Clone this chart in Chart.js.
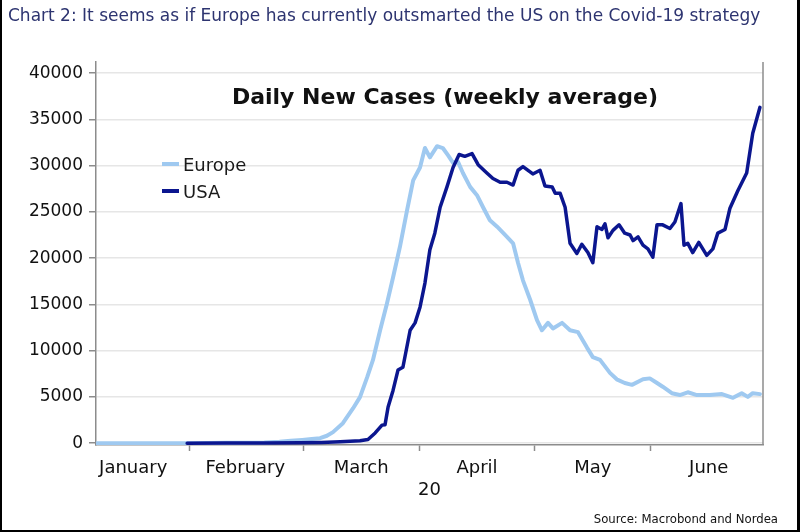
<!DOCTYPE html>
<html>
<head>
<meta charset="utf-8">
<script src="https://cdn.jsdelivr.net/npm/chart.js@4.4.1/dist/chart.umd.min.js"></script>
<style>
  html, body { margin: 0; padding: 0; background: #fff; }
  #wrap { position: relative; width: 800px; height: 532px; }
  #frame {
    position: absolute; left: 0; top: 0; width: 800px; height: 532px;
    box-sizing: border-box; border-left: 2px solid #000; border-right: 3px solid #000;
    border-bottom: 2px solid #000; pointer-events: none;
  }
</style>
</head>
<body>
<div id="wrap">
  <canvas id="chart" width="800" height="532"></canvas>
  <div id="frame"></div>
</div>
<script>
// ─── Data (day of year 2020, Jan 1 = 0) ───
const monthLabels = ['January', 'February', 'March', 'April', 'May', 'June'];
const monthMid = [15.5, 45, 75.5, 106, 136.5, 167];
const yTicks = [0, 5000, 10000, 15000, 20000, 25000, 30000, 35000, 40000];

const europeDays = [6, 20, 30, 40, 50, 54, 57, 60, 62.5, 64.7, 66.5, 68.1, 70.7, 73.4, 75.2, 77.1, 78.6, 80.5,
  82.3, 83.9, 85.7, 87.6, 89.2, 91, 92.3, 93.6, 95.5, 97, 98.4, 99.7, 101, 102.3, 104.2, 106, 107.6, 109.4,
  111.3, 113.9, 115.5, 116.8, 118.1, 120, 121.8, 123.1, 124.7, 126, 128.4, 130.5, 132.6, 135, 136.5, 138.4,
  141, 142.8, 144.9, 146.8, 149.7, 151.5, 153.4, 154.9, 157.3, 159.4, 161.5, 163.9, 167.3, 170.5, 173.4,
  175.7, 177.3, 178.6, 180.5];
const europeCases = [0, 0, 0, 30, 60, 150, 250, 350, 450, 540, 800, 1190, 2160, 3780, 4970, 7130, 8970, 12200,
  15100, 17900, 21200, 25200, 28400, 29800, 31900, 30900, 32100, 31900, 31100, 30300, 30400, 29200, 27700, 26800, 25500, 24100,
  23400, 22300, 21600, 19500, 17600, 15500, 13300, 12200, 13000, 12400, 13000, 12200, 12000, 10300, 9300, 9000,
  7600, 6900, 6500, 6300, 6900, 7000, 6500, 6100, 5400, 5200, 5500, 5200, 5200, 5300, 4900,
  5400, 5000, 5400, 5300];

const usaDays = [29.7, 40, 50, 59.4, 65, 70, 75.2, 77.3, 79.2, 81, 81.8, 82.6, 83.9, 85.2, 86.5, 88.4, 89.7, 91,
  92.3, 93.6, 94.9, 96.3, 98.1, 99.7, 101.3, 102.8, 104.7, 106.3, 108.6, 110.2, 112.1, 113.9, 115.5, 116.8,
  118.1, 120.7, 122.6, 123.9, 125.8, 126.6, 127.9, 129.2, 130.5, 132.3, 133.6, 135.2, 136.5, 137.6, 138.9,
  139.7, 140.5, 141.8, 143.4, 144.9, 146.3, 147.1, 148.4, 149.7, 151, 152.3, 153.4, 154.9, 156.8, 158.1,
  159.7, 160.5, 161.5, 162.8, 164.4, 166.5, 168.1, 169.4, 171.3, 172.6, 174.7, 177, 178.6, 180.5];
const usaCases = [0, 10, 15, 30, 80, 150, 250, 400, 1100, 1950, 2000, 3900, 5700, 7900, 8200, 12200, 13000, 14700,
  17300, 20900, 22700, 25500, 27700, 29800, 31200, 31000, 31300, 30100, 29200, 28600, 28200, 28200, 27900, 29500,
  29900, 29100, 29500, 27800, 27700, 27000, 27000, 25500, 21600, 20500, 21500, 20600, 19500, 23400, 23100,
  23700, 22200, 23000, 23600, 22700, 22500, 21900, 22300, 21400, 21000, 20100, 23600, 23600, 23200, 23900,
  25900, 21400, 21600, 20600, 21700, 20300, 21000, 22700, 23100, 25400, 27300, 29200, 33500, 36300];

const toPoints = (xs, ys) => xs.map((x, i) => ({ x, y: ys[i] }));

const AXIS_GRAY = '#8c8c8c';
const FONT = 'DejaVu Sans';

// ─── Inner title, legend, right frame, source ───
const decorations = {
    id: 'decorations',
    afterDraw(chart) {
        const { ctx, chartArea: a } = chart;
        ctx.save();

        // right frame line
        ctx.strokeStyle = AXIS_GRAY;
        ctx.lineWidth = 1.5;
        ctx.beginPath();
        ctx.moveTo(a.right, a.top);
        ctx.lineTo(a.right, a.bottom);
        ctx.stroke();

        // chart heading inside plot
        ctx.fillStyle = '#111';
        ctx.font = `bold 22px "${FONT}"`;
        ctx.textAlign = 'center';
        ctx.textBaseline = 'alphabetic';
        ctx.fillText('Daily New Cases (weekly average)', a.left + 349, a.top + 42);

        // legend
        ctx.font = `18px "${FONT}"`;
        ctx.textAlign = 'left';
        chart.data.datasets.forEach((ds, i) => {
            const y = a.top + 102 + i * 27;
            ctx.strokeStyle = ds.borderColor;
            ctx.lineWidth = 4;
            ctx.beginPath();
            ctx.moveTo(a.left + 66, y);
            ctx.lineTo(a.left + 83, y);
            ctx.stroke();
            ctx.fillStyle = '#1a1a1a';
            ctx.fillText(ds.label, a.left + 87, y + 7);
        });

        // source
        ctx.font = `13px "DejaVu Sans Condensed"`;
        ctx.textAlign = 'right';
        ctx.fillStyle = '#111';
        ctx.fillText('Source: Macrobond and Nordea', 778, 523);
        ctx.restore();
    }
};

new Chart(document.getElementById('chart'), {
    type: 'line',
    data: {
        datasets: [
            {
                label: 'Europe',
                data: toPoints(europeDays, europeCases),
                borderColor: '#9fc9f0',
                borderWidth: 4,
                order: 1
            },
            {
                label: 'USA',
                data: toPoints(usaDays, usaCases),
                borderColor: '#0b168f',
                borderWidth: 3.5,
                order: 0
            }
        ]
    },
    options: {
        responsive: false,
        animation: false,
        layout: { padding: { left: 8, right: 37, top: 0, bottom: 31 } },
        elements: {
            point: { radius: 0 },
            line: { tension: 0, borderJoinStyle: 'round', borderCapStyle: 'round' }
        },
        plugins: {
            legend: { display: false },
            tooltip: { enabled: false },
            title: {
                display: true,
                text: 'Chart 2: It seems as if Europe has currently outsmarted the US on the Covid-19 strategy',
                align: 'start',
                color: '#2d3470',
                font: { family: FONT, size: 17, weight: 'normal' },
                padding: { top: 6, bottom: 35.6 }
            }
        },
        scales: {
            x: {
                type: 'linear',
                min: 5.7,
                max: 181.3,
                afterBuildTicks: axis => { axis.ticks = monthMid.map(v => ({ value: v })); },
                afterFit: axis => { axis.height = 56; },
                ticks: {
                    callback: (v, i) => monthLabels[i],
                    autoSkip: false,
                    maxRotation: 0,
                    padding: 7,
                    color: '#111',
                    font: { family: FONT, size: 18 }
                },
                grid: {
                    display: true,
                    drawOnChartArea: false,
                    offset: true,
                    tickLength: 6,
                    tickColor: AXIS_GRAY,
                    tickWidth: 1.5
                },
                border: { color: AXIS_GRAY, width: 1.5 },
                title: {
                    display: true,
                    text: '20',
                    color: '#111',
                    font: { family: FONT, size: 18 },
                    padding: { top: 0, bottom: 0 }
                }
            },
            y: {
                min: -200,
                max: 41200,
                afterBuildTicks: axis => { axis.ticks = yTicks.map(v => ({ value: v })); },
                afterFit: axis => { axis.width = 88; },
                ticks: {
                    callback: v => String(v),
                    padding: 6,
                    color: '#111',
                    font: { family: FONT, size: 17 }
                },
                grid: {
                    color: '#e6e6e6',
                    lineWidth: 1.5,
                    tickLength: 7,
                    tickColor: AXIS_GRAY
                },
                border: { color: AXIS_GRAY, width: 1.5 }
            }
        }
    },
    plugins: [decorations]
});
</script>
</body>
</html>
